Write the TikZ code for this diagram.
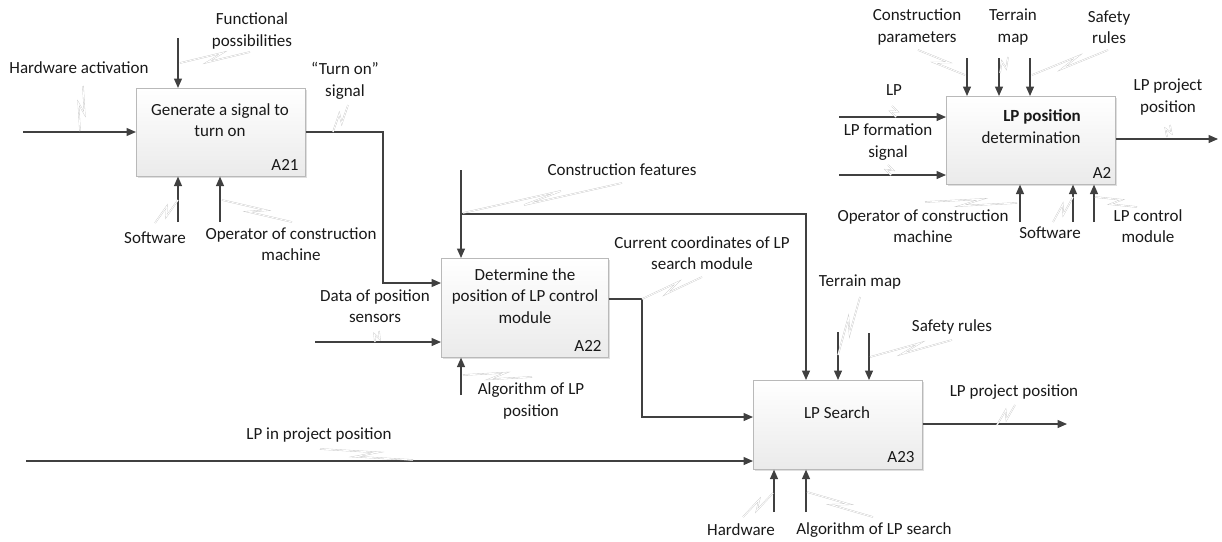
\documentclass[tikz,border=0pt]{standalone}
\usepackage{fontspec}
\setmainfont{Carlito}
\usetikzlibrary{arrows.meta,calc,shadows}
\newcommand{\squig}[2]{\draw[sq] (#1) -- ($(#1)!0.62!(#2)!3.5pt!90:(#2)$) -- ($(#1)!0.38!(#2)!3.5pt!-90:(#2)$) -- (#2);}
\begin{document}
\begin{tikzpicture}[x=1pt,y=-1pt,
  box/.style={draw=gray!55, line width=0.6pt, top color=white, bottom color=gray!16,
    drop shadow={shadow xshift=1.5pt, shadow yshift=-1.5pt, opacity=0.25},
    minimum width=169pt, minimum height=88pt, anchor=north west, inner sep=0pt},
  arr/.style={draw=black!75, line width=1.3pt, -{Triangle[length=9.5pt,width=8pt]}},
  sq/.style={draw=gray!45, line width=0.35pt, double=white, double distance=0.8pt, line join=miter},
  lbl/.style={font=\fontsize{17}{21.5}\selectfont, text=black!90, align=center, inner sep=0pt},
]
\useasboundingbox (0,0) rectangle (1222,541);

% ---------- boxes ----------
\node[box] (a21) at (136,88) {};
\node[box, minimum width=167pt, minimum height=99pt] (a22) at (441,258) {};
\node[box, minimum height=89pt] (a23) at (753,380) {};
\node[box] (a2) at (946,96) {};

\node[lbl] (a21t) at (220,120) {Generate a signal to\\turn on};
\node[lbl] (a21id) at (285,165) {A21};
\node[lbl] (a22t) at (525,296) {Determine the\\position of LP control\\module};
\node[lbl] (a22id) at (588,346) {A22};
\node[lbl] (a23t) at (837,413) {LP Search};
\node[lbl] (a23id) at (901,457) {A23};
\node[lbl] (a2t1) at (1042,117) {\textbf{LP position}};
\node[lbl] (a2t2) at (1031,138) {determination};
\node[lbl] (a2id) at (1102,173) {A2};

% ---------- A21 ----------
\coordinate (ha) at (23,132);
\draw[arr] (ha) -- (a21.west |- ha);
\node[lbl] (haL) at (79,68) {Hardware activation};
\coordinate (haS1) at (80,131); \coordinate (haS2) at (83,86);
\squig{haS1}{haS2}

\coordinate (fp) at (178,38);
\draw[arr] (fp) -- (fp |- a21.north);
\node[lbl] (fpL) at (252,31) {Functional\\possibilities};
\coordinate (fpS1) at (180,63); \coordinate (fpS2) at (250,52);
\squig{fpS1}{fpS2}

\coordinate (t1) at (383,132);
\coordinate (t2) at (383,283);
\draw[arr] (a21.east |- t1) -- (t1) -- (t2) -- (a22.west |- t2);
\node[lbl] (toL) at (345,81) {“Turn on”\\signal};
\coordinate (toS1) at (333,132); \coordinate (toS2) at (348,105);
\squig{toS1}{toS2}

\coordinate (sw1) at (178,222);
\draw[arr] (sw1) -- (sw1 |- a21.south);
\node[lbl] (sw1L) at (155,238) {Software};
\coordinate (sw1S1) at (178,200); \coordinate (sw1S2) at (155,223);
\squig{sw1S1}{sw1S2}

\coordinate (op1) at (220,222);
\draw[arr] (op1) -- (op1 |- a21.south);
\node[lbl] (op1L) at (291,244) {Operator of construction\\machine};
\coordinate (op1S1) at (222,200); \coordinate (op1S2) at (292,222);
\squig{op1S1}{op1S2}

% ---------- A22 ----------
\coordinate (ds) at (315,342);
\draw[arr] (ds) -- (a22.west |- ds);
\node[lbl] (dsL) at (375,306) {Data of position\\sensors};
\coordinate (dsS1) at (375,342); \coordinate (dsS2) at (379,331);
\squig{dsS1}{dsS2}

\coordinate (cf) at (461,170);
\coordinate (cfb) at (461,214);
\coordinate (cfc) at (806,214);
\draw[arr] (cf) -- (cf |- a22.north);
\draw[arr] (cfb) -- (cfc) -- (cfc |- a23.north);
\node[lbl] (cfL) at (622,170) {Construction features};
\coordinate (cfS1) at (463,213); \coordinate (cfS2) at (622,183);
\squig{cfS1}{cfS2}

\coordinate (alp) at (461,395);
\draw[arr] (alp) -- (alp |- a22.south);
\node[lbl] (alpL) at (531,401) {Algorithm of LP\\position};
\coordinate (alpS1) at (463,375); \coordinate (alpS2) at (532,377);
\squig{alpS1}{alpS2}

\coordinate (cc) at (642,299);
\coordinate (ccd) at (642,417);
\draw[arr] (a22.east |- cc) -- (cc) -- (ccd) -- (a23.west |- ccd);
\node[lbl] (ccL) at (702,253) {Current coordinates of LP\\search module};
\coordinate (ccS1) at (642,299); \coordinate (ccS2) at (702,277);
\squig{ccS1}{ccS2}

% ---------- A23 ----------
\coordinate (lpp) at (26,461);
\draw[arr] (lpp) -- (a23.west |- lpp);
\node[lbl] (lppL) at (319,435) {LP in project position};
\coordinate (lppS1) at (320,449); \coordinate (lppS2) at (413,460);
\squig{lppS1}{lppS2}

\coordinate (tm) at (838,332);
\draw[arr] (tm) -- (tm |- a23.north);
\node[lbl] (tmL) at (860,282) {Terrain map};
\coordinate (tmS1) at (838,355); \coordinate (tmS2) at (860,297);
\squig{tmS1}{tmS2}

\coordinate (sr) at (869,333);
\draw[arr] (sr) -- (sr |- a23.north);
\node[lbl] (srL) at (952,327) {Safety rules};
\coordinate (srS1) at (870,357); \coordinate (srS2) at (952,340);
\squig{srS1}{srS2}

\coordinate (o23) at (1067,424);
\draw[arr] (a23.east |- o23) -- (o23);
\node[lbl] (o23L) at (1014,392) {LP project position};
\coordinate (o23S1) at (997,425); \coordinate (o23S2) at (1015,405);
\squig{o23S1}{o23S2}

\coordinate (hw) at (774,512);
\draw[arr] (hw) -- (hw |- a23.south);
\node[lbl] (hwL) at (741,530) {Hardware};
\coordinate (hwS1) at (773,493); \coordinate (hwS2) at (743,517);
\squig{hwS1}{hwS2}

\coordinate (als) at (806,512);
\draw[arr] (als) -- (als |- a23.south);
\node[lbl] (alsL) at (874,530) {Algorithm of LP search};
\coordinate (alsS1) at (807,492); \coordinate (alsS2) at (873,517);
\squig{alsS1}{alsS2}

% ---------- A2 ----------
\coordinate (lp) at (839,117);
\draw[arr] (lp) -- (a2.west |- lp);
\node[lbl] (lpL) at (894,90) {LP};
\coordinate (lpS1) at (896,117); \coordinate (lpS2) at (892,106);
\squig{lpS1}{lpS2}

\coordinate (lfs) at (839,175);
\draw[arr] (lfs) -- (a2.west |- lfs);
\node[lbl] (lfsL) at (888,142) {LP formation\\signal};
\coordinate (lfsS1) at (891,175); \coordinate (lfsS2) at (888,165);
\squig{lfsS1}{lfsS2}

\coordinate (cp) at (967,58);
\draw[arr] (cp) -- (cp |- a2.north);
\node[lbl] (cpL) at (917,27) {Construction\\parameters};
\coordinate (cpS1) at (965,75); \coordinate (cpS2) at (918,50);
\squig{cpS1}{cpS2}

\coordinate (tm2) at (999,58);
\draw[arr] (tm2) -- (tm2 |- a2.north);
\node[lbl] (tm2L) at (1013,27) {Terrain\\map};
\coordinate (tm2S1) at (1000,73); \coordinate (tm2S2) at (1008,57);
\squig{tm2S1}{tm2S2}

\coordinate (sr2) at (1030,58);
\draw[arr] (sr2) -- (sr2 |- a2.north);
\node[lbl] (sr2L) at (1109,27) {Safety\\rules};
\coordinate (sr2S1) at (1032,75); \coordinate (sr2S2) at (1108,50);
\squig{sr2S1}{sr2S2}

\coordinate (o2) at (1218,139);
\draw[arr] (a2.east |- o2) -- (o2);
\node[lbl] (o2L) at (1168,97) {LP project\\position};
\coordinate (o2S1) at (1167,137); \coordinate (o2S2) at (1170,125);
\squig{o2S1}{o2S2}

\coordinate (op2) at (1020,222);
\draw[arr] (op2) -- (op2 |- a2.south);
\node[lbl] (op2L) at (923,226) {Operator of construction\\machine};
\coordinate (op2S1) at (1017,203); \coordinate (op2S2) at (925,202);
\squig{op2S1}{op2S2}

\coordinate (sw2) at (1073,222);
\draw[arr] (sw2) -- (sw2 |- a2.south);
\node[lbl] (sw2L) at (1050,233) {Software};
\coordinate (sw2S1) at (1073,197); \coordinate (sw2S2) at (1053,222);
\squig{sw2S1}{sw2S2}

\coordinate (lcm) at (1094,222);
\draw[arr] (lcm) -- (lcm |- a2.south);
\node[lbl] (lcmL) at (1148,226) {LP control\\module};
\coordinate (lcmS1) at (1095,197); \coordinate (lcmS2) at (1137,207);
\squig{lcmS1}{lcmS2}
\end{tikzpicture}
\end{document}
